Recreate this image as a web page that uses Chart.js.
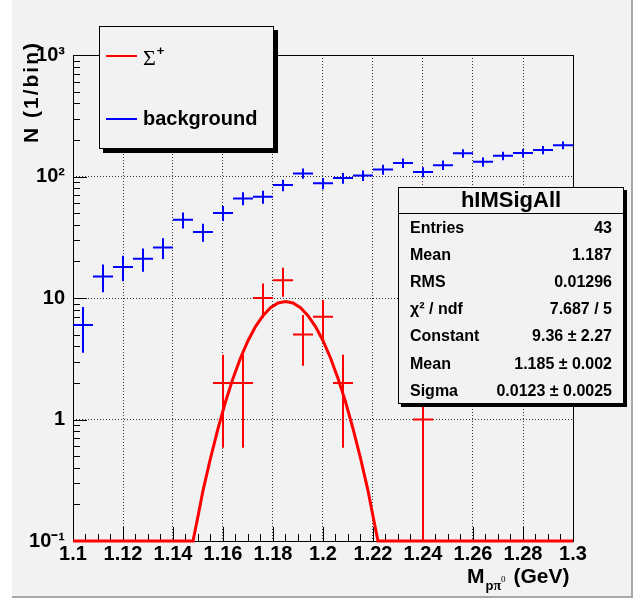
<!DOCTYPE html>
<html>
<head>
<meta charset="utf-8">
<script src="https://cdn.jsdelivr.net/npm/chart.js@4.4.1/dist/chart.umd.min.js"></script>
<style>
  html, body { margin: 0; padding: 0; background: #ffffff; }
</style>
</head>
<body>
<canvas id="chart" width="641" height="602"></canvas>
<script>
// Centres des bins (GeV), largeur 0.008
const binCenters = [1.104, 1.112, 1.120, 1.128, 1.136, 1.144, 1.152, 1.160, 1.168, 1.176,
                    1.184, 1.192, 1.200, 1.208, 1.216, 1.224, 1.232, 1.240, 1.248, 1.256,
                    1.264, 1.272, 1.280, 1.288, 1.296];
const backgroundCounts = [6, 15, 18, 21, 26, 44, 35, 50, 66, 68,
                          85, 106, 88, 97, 102, 114, 129, 109, 124, 155,
                          132, 148, 156, 165, 181];

// Signal Sigma+ (bins non vides)
const sigmaX = [1.160, 1.168, 1.176, 1.184, 1.192, 1.200, 1.208, 1.240];
const sigmaCounts = [2, 2, 10, 14, 5, 7, 2, 1];

// Courbe d'ajustement
const fitX = [1.100, 1.146, 1.148, 1.150, 1.152, 1.155, 1.158, 1.161, 1.164, 1.167, 1.170,
              1.173, 1.176, 1.179, 1.182, 1.185, 1.188, 1.191, 1.194, 1.197, 1.200,
              1.203, 1.206, 1.209, 1.212, 1.215, 1.218, 1.220, 1.222, 1.224, 1.300];
const fitY = [0.1, 0.1, 0.10, 0.16, 0.26, 0.48, 0.84, 1.40, 2.18, 3.21, 4.45,
              5.82, 7.16, 8.31, 9.09, 9.36, 9.09, 8.31, 7.16, 5.82, 4.45,
              3.21, 2.18, 1.40, 0.84, 0.48, 0.26, 0.16, 0.10, 0.1, 0.1];

const xTickValues = [1.10, 1.12, 1.14, 1.16, 1.18, 1.20, 1.22, 1.24, 1.26, 1.28, 1.30];
const xTickLabels = ['1.1', '1.12', '1.14', '1.16', '1.18', '1.2', '1.22', '1.24', '1.26', '1.28', '1.3'];
const yTickValues = [0.1, 1, 10, 100, 1000];
const yTickLabels = ['10⁻¹', '1', '10', '10²', '10³'];

const statsTitle = 'hIMSigAll';
const statsRows = [
    ['Entries', '43'],
    ['Mean', '1.187'],
    ['RMS', '0.01296'],
    ['χ² / ndf', '7.687 / 5'],
    ['Constant', '9.36 ± 2.27'],
    ['Mean', '1.185 ± 0.002'],
    ['Sigma', '0.0123 ± 0.0025']
];

const FONT = "'Liberation Sans', Arial, Helvetica, sans-serif";
const SERIF = "'Liberation Serif', 'Times New Roman', serif";
const binHalf = 0.004;

// fond du pad ROOT
const padBackground = {
    id: 'padBackground',
    beforeDraw(chart) {
        const ctx = chart.ctx;
        ctx.save();
        ctx.fillStyle = '#ffffff';
        ctx.fillRect(0, 0, chart.width, chart.height);
        ctx.fillStyle = '#f2f2f2';
        ctx.fillRect(12, 0, 621, 598);
        ctx.fillStyle = '#a8a8a8';
        ctx.fillRect(631, 0, 2, 598);
        ctx.fillRect(12, 596, 621, 2);
        ctx.restore();
    }
};

// cadre et graduations internes
const frameTicks = {
    id: 'frameTicks',
    beforeDatasetsDraw(chart) {
        const { ctx, chartArea: a, scales: { x, y } } = chart;
        ctx.save();
        ctx.strokeStyle = '#000';
        ctx.lineWidth = 1;
        ctx.beginPath();
        // graduations x
        for (let v = 1.1; v <= 1.3001; v += 0.005) {
            const px = Math.round(x.getPixelForValue(v)) + 0.5;
            const major = Math.abs(v * 50 - Math.round(v * 50)) < 1e-6;
            ctx.moveTo(px, a.bottom);
            ctx.lineTo(px, a.bottom - (major ? 14 : 7));
        }
        // graduations y (log)
        [0.1, 1, 10, 100].forEach(d => {
            for (let m = 1; m <= 9; m++) {
                const py = Math.round(y.getPixelForValue(m * d)) + 0.5;
                ctx.moveTo(a.left, py);
                ctx.lineTo(a.left + (m === 1 ? 14 : 7), py);
            }
        });
        const pyTop = Math.round(y.getPixelForValue(1000)) + 0.5;
        ctx.moveTo(a.left, pyTop);
        ctx.lineTo(a.left + 14, pyTop);
        ctx.stroke();
        ctx.strokeRect(Math.round(a.left) + 0.5, Math.round(a.top) + 0.5,
                       Math.round(a.right - a.left), Math.round(a.bottom - a.top));
        ctx.restore();
    }
};

// barres d'erreur sqrt(N)
const errorBars = {
    id: 'errorBars',
    afterDatasetsDraw(chart) {
        const { ctx, chartArea: a, scales: { x, y } } = chart;
        chart.data.datasets.forEach(ds => {
            if (!ds.errorBars) return;
            ctx.save();
            ctx.strokeStyle = ds.borderColor;
            ctx.lineWidth = 2;
            ctx.beginPath();
            ds.data.forEach(p => {
                const e = Math.sqrt(p.y);
                const px = x.getPixelForValue(p.x);
                const py = y.getPixelForValue(p.y);
                ctx.moveTo(x.getPixelForValue(p.x - binHalf), py);
                ctx.lineTo(x.getPixelForValue(p.x + binHalf), py);
                const top = y.getPixelForValue(p.y + e);
                const bot = p.y - e > 0.1 ? y.getPixelForValue(p.y - e) : a.bottom;
                ctx.moveTo(px, top);
                ctx.lineTo(px, bot);
            });
            ctx.stroke();
            ctx.restore();
        });
    }
};

// titres, légende et boîte de statistiques
const annotations = {
    id: 'annotations',
    afterDraw(chart) {
        const ctx = chart.ctx;
        ctx.save();
        ctx.fillStyle = '#000';

        // titre axe y
        ctx.save();
        ctx.translate(38, 143);
        ctx.rotate(-Math.PI / 2);
        ctx.font = 'bold 21px ' + FONT;
        ctx.letterSpacing = '2px';
        ctx.textAlign = 'left';
        ctx.textBaseline = 'alphabetic';
        ctx.fillText('N (1/bin)', 0, 0);
        ctx.restore();

        // titre axe x
        let tx = 467;
        ctx.textAlign = 'left';
        ctx.font = 'bold 21px ' + FONT;
        ctx.fillText('M', tx, 583);
        tx += ctx.measureText('M').width + 1;
        ctx.font = 'bold 13px ' + FONT;
        ctx.fillText('p', tx, 590);
        tx += ctx.measureText('p').width;
        ctx.font = 'bold 14px ' + SERIF;
        ctx.fillText('π', tx, 590);
        tx += ctx.measureText('π').width;
        ctx.font = '9px ' + SERIF;
        ctx.fillText('0', tx, 582);
        tx += ctx.measureText('0').width + 2;
        ctx.font = 'bold 21px ' + FONT;
        ctx.fillText(' (GeV)', tx, 583);

        // légende
        const ds = chart.data.datasets;
        ctx.fillStyle = '#000';
        ctx.fillRect(103, 30, 175, 123);
        ctx.fillStyle = '#f2f2f2';
        ctx.fillRect(99, 26, 175, 123);
        ctx.strokeStyle = '#000';
        ctx.lineWidth = 1;
        ctx.strokeRect(99.5, 26.5, 174, 122);
        ctx.lineWidth = 2;
        ctx.strokeStyle = ds[1].borderColor;
        ctx.beginPath(); ctx.moveTo(106, 56); ctx.lineTo(137, 56); ctx.stroke();
        ctx.strokeStyle = ds[0].borderColor;
        ctx.beginPath(); ctx.moveTo(106, 119); ctx.lineTo(137, 119); ctx.stroke();
        ctx.fillStyle = '#000';
        ctx.font = '22px ' + SERIF;
        ctx.fillText('Σ', 143, 65);
        const sw = ctx.measureText('Σ').width;
        ctx.font = 'bold 13px ' + FONT;
        ctx.fillText('+', 143 + sw + 1, 55);
        ctx.font = 'bold 20px ' + FONT;
        ctx.fillText(ds[0].label, 143, 125);

        // boîte de statistiques
        const bx = 398, by = 187, bw = 226, bh = 217;
        ctx.fillStyle = '#000';
        ctx.fillRect(bx + 3, by + 3, bw, bh);
        ctx.fillStyle = '#f2f2f2';
        ctx.fillRect(bx, by, bw, bh);
        ctx.strokeStyle = '#000';
        ctx.lineWidth = 1;
        ctx.strokeRect(bx + 0.5, by + 0.5, bw - 1, bh - 1);
        ctx.beginPath();
        ctx.moveTo(bx, 213.5); ctx.lineTo(bx + bw, 213.5);
        ctx.stroke();
        ctx.fillStyle = '#000';
        ctx.font = 'bold 22px ' + FONT;
        ctx.textAlign = 'center';
        ctx.fillText(statsTitle, bx + bw / 2, 207);
        ctx.font = 'bold 16px ' + FONT;
        statsRows.forEach((r, i) => {
            const yy = 233 + i * 27.1;
            ctx.textAlign = 'left';
            ctx.fillText(r[0], 410, yy);
            ctx.textAlign = 'right';
            ctx.fillText(r[1], 612, yy);
        });
        ctx.restore();
    }
};

new Chart(document.getElementById('chart'), {
    type: 'scatter',
    data: {
        datasets: [
            {
                label: 'background',
                data: binCenters.map((v, i) => ({ x: v, y: backgroundCounts[i] })),
                borderColor: '#0000ff',
                backgroundColor: '#0000ff',
                pointRadius: 0,
                showLine: false,
                errorBars: true
            },
            {
                label: 'Σ+',
                data: sigmaX.map((v, i) => ({ x: v, y: sigmaCounts[i] })),
                borderColor: '#ff0000',
                backgroundColor: '#ff0000',
                pointRadius: 0,
                showLine: false,
                errorBars: true
            },
            {
                label: 'fit',
                type: 'line',
                data: fitX.map((v, i) => ({ x: v, y: fitY[i] })),
                borderColor: '#ff0000',
                borderWidth: 3,
                pointRadius: 0,
                tension: 0,
                fill: false,
                clip: 4
            }
        ]
    },
    options: {
        responsive: false,
        animation: false,
        layout: { padding: { top: 55, right: 68, left: 0, bottom: 0 } },
        plugins: {
            legend: { display: false },
            tooltip: { enabled: false }
        },
        scales: {
            x: {
                type: 'linear',
                min: 1.1,
                max: 1.3,
                afterBuildTicks: s => { s.ticks = xTickValues.map(v => ({ value: v })); },
                afterFit: s => { s.height = 61; },
                ticks: {
                    callback: (v, i) => xTickLabels[i],
                    color: '#000',
                    font: { family: FONT, size: 20, weight: 'bold' },
                    padding: 1,
                    maxRotation: 0,
                    autoSkip: false
                },
                grid: { color: '#333', lineWidth: 1, drawTicks: false },
                border: { display: false, dash: [1, 2] }
            },
            y: {
                type: 'logarithmic',
                min: 0.1,
                max: 1000,
                afterBuildTicks: s => { s.ticks = yTickValues.map(v => ({ value: v })); },
                afterFit: s => { s.width = 73; },
                ticks: {
                    callback: (v, i) => yTickLabels[i],
                    color: '#000',
                    font: { family: FONT, size: 20, weight: 'bold' },
                    padding: 8,
                    autoSkip: false
                },
                grid: { color: '#333', lineWidth: 1, drawTicks: false },
                border: { display: false, dash: [1, 2] }
            }
        }
    },
    plugins: [padBackground, frameTicks, errorBars, annotations]
});
</script>
</body>
</html>
